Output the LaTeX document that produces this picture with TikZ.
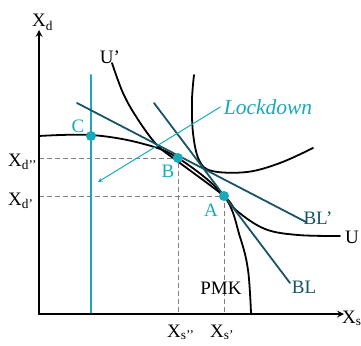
\documentclass[tikz,border=0pt]{standalone}
\usepackage{fontspec}
\setmainfont{Liberation Serif}
\definecolor{lockcyan}{RGB}{24,170,186}
\definecolor{lineteal}{RGB}{24,84,104}
\begin{document}
\begin{tikzpicture}[x=1pt, y=-1pt, line cap=round, line join=round, >=stealth, font=\fontsize{19}{22}\selectfont]
			\useasboundingbox (0,0) rectangle (361,345);
			\coordinate (O) at (39,314);
			\coordinate (Ytop) at (39,30);
			\coordinate (Xend) at (344,314);
			\foreach \x/\y/\n in {224/196/A, 178/158/B, 91/136/C} {
				\coordinate (\n) at (\x,\y);
			}
			\coordinate (Ctop) at (91,75);
			\coordinate (BLa) at (154,103);
			\coordinate (BLb) at (290,283);
			\coordinate (BLpa) at (77,103);
			\coordinate (BLpb) at (306,222);
			\coordinate (tip) at (98,182);
			
			\foreach \p in {A,B} {
				\draw[gray, line width=0.8pt, dash pattern=on 5pt off 3pt, line cap=butt] (O |- \p) -- (\p) -- (\p |- O);
			}
			
			\draw[lockcyan, line width=2pt] (Ctop) -- (C |- O);
			
			\draw[black, line width=1.8pt] plot[smooth, tension=0.6] coordinates {(39,136) (91,135) (140,143) (B) (A) (240,237) (248,270) (251,313)};
			\draw[black, line width=1.8pt] plot[smooth, tension=0.6] coordinates {(112,63) (123,93) (137,118) (157,145) (180,163) (A) (237,211) (265,229) (298,235) (340,236)};
			\draw[black, line width=1.8pt] plot[smooth, tension=0.6] coordinates {(194,75) (192,100) (193,133) (199,160) (212,171) (247,172) (280,163) (313,148)};
			
			\draw[lineteal, line width=1.8pt] (BLpa) -- (BLpb);
			\draw[lineteal, line width=1.8pt] (BLa) -- (BLb);
			
			\draw[black, line width=2pt, ->] (O) -- (Ytop);
			\draw[black, line width=2pt, ->] (O) -- (Xend);
			
			\foreach \n in {A,B,C} {
				\fill[lockcyan] (\n) circle (5);
			}
			
			\node[lockcyan, font=\fontsize{21.5}{24}\selectfont\itshape] (lock) at (268,107) {Lockdown};
			\draw[lockcyan, line width=1pt, ->] (lock.west) -- (tip);
			
			\node[lockcyan] (labA) at (211,210) {A};
			\node[lockcyan] (labB) at (168,171) {B};
			\node[lockcyan] (labC) at (78,126) {C};
			
			\node[lineteal] (labBLp) at (318,218) {BL’};
			\node[lineteal] (labBL) at (304,287) {BL};
			\node (labPMK) at (221,288) {PMK};
			\node (labU) at (352,237) {U};
			\node (labUp) at (110,57) {U’};
			
			\node[anchor=base west, inner sep=0pt] (Xd) at (32,27) {X\textsubscript{d}};
			\node[anchor=base west, inner sep=0pt] (Xdpp) at (8,166) {X\textsubscript{d’’}};
			\node[anchor=base west, inner sep=0pt] (Xdp) at (8,205) {X\textsubscript{d’}};
			\node[anchor=base west, inner sep=0pt] (Xs) at (342,323) {X\textsubscript{s}};
			\node[anchor=base west, inner sep=0pt] (Xspp) at (167,337) {X\textsubscript{s’’}};
			\node[anchor=base west, inner sep=0pt] (Xsp) at (210,337) {X\textsubscript{s’}};
		\end{tikzpicture}
\end{document}
